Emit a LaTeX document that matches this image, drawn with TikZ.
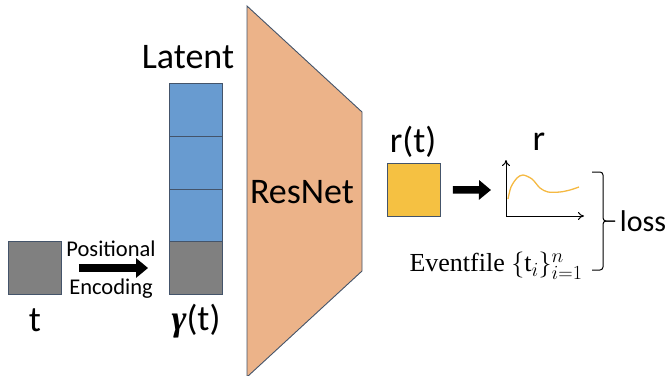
\documentclass[tikz,border=0pt]{standalone}
\usepackage{fix-cm}
\usepackage{amsmath}
\usepackage{fontspec}
\setmainfont{Carlito}
\newfontfamily\evfont{Liberation Serif}
\DeclareMathSizes{26}{26}{20}{15}
\usetikzlibrary{arrows.meta,positioning}
\definecolor{cellgray}{RGB}{128,128,128}
\definecolor{cellblue}{RGB}{104,155,208}
\definecolor{netorange}{RGB}{236,179,137}
\definecolor{outyellow}{RGB}{245,193,66}
\definecolor{curveyellow}{RGB}{245,185,66}
\definecolor{edgeslate}{RGB}{68,84,106}
\tikzset{
  cell/.style={draw=edgeslate, line width=0.9pt, minimum width=53pt, minimum height=53pt, inner sep=0pt},
  biglabel/.style={font=\fontsize{36}{40}\selectfont, inner sep=0pt},
  fatarrow/.style={-{Triangle[length=12pt,width=19pt]}, line width=7.5pt},
  axis/.style={-{To[length=6pt,width=8pt]}, line width=1pt}
}
\begin{document}
\begin{tikzpicture}[x=1pt, y=-1pt]
    \useasboundingbox (0,0) rectangle (672,375);
    % input and latent vector
    \node[cell, fill=cellgray] (tbox) at (35,268) {};
    \node[biglabel] (tlab) at (35,320) {t};
    \node[cell, fill=cellblue] (lat1) at (196,109.5) {};
    \node[cell, fill=cellblue] (lat2) at (196,162.5) {};
    \node[cell, fill=cellblue] (lat3) at (196,215.5) {};
    \node[cell, fill=cellgray] (lat4) at (196,268) {};
    \node[biglabel] (latlab) at (188,57) {Latent};
    \node[biglabel] (gamlab) at (196,321) {{\evfont\bfseries\itshape γ}(t)};
    \draw[fatarrow, shorten <=17pt, shorten >=21pt] (tbox) -- (lat4);
    \node[font=\fontsize{22.5}{25}\selectfont, inner sep=0pt] (poslab) at (111,249) {Positional};
    \node[font=\fontsize{22.5}{25}\selectfont, inner sep=0pt] (enclab) at (111,289) {Encoding};
    % network
    \draw[draw=edgeslate, line width=0.9pt, fill=netorange] (247,6) -- (362,112) -- (362,271) -- (247,377) -- cycle;
    \node[biglabel] (netlab) at (302,192) {ResNet};
    % output
    \node[cell, fill=outyellow] (rbox) at (414,189.5) {};
    \node[biglabel] (rlab) at (413,142) {r(t)};
    \coordinate (plotin) at (491,190);
    \draw[fatarrow, shorten <=12pt] (rbox) -- (plotin);
    \coordinate (origin) at (506,216);
    \coordinate (ytop) at (506,160);
    \coordinate (xend) at (584,216);
    \draw[axis] (origin) -- (ytop);
    \draw[axis] (origin) -- (xend);
    \draw[curveyellow, line width=1.3pt] plot[smooth] coordinates {(508,199) (511,187) (517,178) (523,175) (532,179) (540,188) (548,192) (560,192) (570,190) (579,187)};
    \node[biglabel] (plotlab) at (539,142) {r};
    \node[inner sep=0pt] (evlab) at (496,266) {\evfont\fontsize{26}{29}\selectfont Eventfile $\{\text{\evfont t}_i\}_{i=1}^{n}$};
    % bracket
    \coordinate (bracetop) at (592,172);
    \coordinate (bracebot) at (592,270);
    \coordinate (bracetip) at (615,221);
    \draw[line width=1pt, rounded corners=3pt] (bracetop) -- (603,172) -- (603,221) -- (bracetip);
    \draw[line width=1pt, rounded corners=3pt] (bracebot) -- (603,270) -- (603,221) -- (bracetip);
    \node[font=\fontsize{30}{33}\selectfont, inner sep=0pt] (losslab) at (643,221) {loss};
\end{tikzpicture}
\end{document}
